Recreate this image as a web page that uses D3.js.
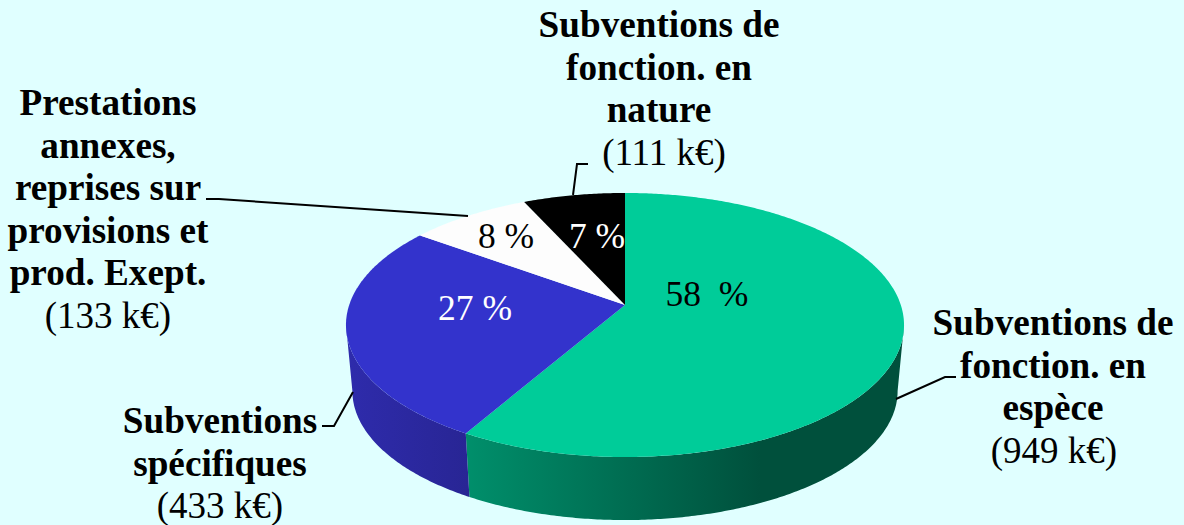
<!DOCTYPE html>
<html lang="fr">
<head>
<meta charset="UTF-8">
<script src="https://d3js.org/d3.v7.min.js"></script>
<title>Recettes</title>
<style>
    html, body { margin: 0; padding: 0; background: #e0ffff; }
    svg { display: block; }
    text { font-family: "Liberation Serif", serif; font-size: 37px; fill: black; text-anchor: middle; }
    text.name { font-weight: bold; font-size: 37.2px; }
    text.pct { font-size: 35.5px; white-space: pre; }
    .leader { fill: none; stroke: black; stroke-width: 2; }
</style>
</head>
<body>
<svg width="1184" height="525"></svg>
<script>
    const width = 1184, height = 525;

    const categories = ["Subventions de fonction. en espèce", "Subventions spécifiques",
        "Prestations annexes, reprises sur provisions et prod. Exept.", "Subventions de fonction. en nature"];
    const amounts = [949, 433, 133, 111];
    const percents = ["58  %", "27 %", "8 %", "7 %"];
    const amountLabels = ["(949 k€)", "(433 k€)", "(133 k€)", "(111 k€)"];
    const nameLines = [
        ["Subventions de", "fonction. en", "espèce"],
        ["Subventions", "spécifiques"],
        ["Prestations", "annexes,", "reprises sur", "provisions et", "prod. Exept."],
        ["Subventions de", "fonction. en", "nature"]
    ];
    const topColors = ["#00cc99", "#3333cc", "#fdfdfd", "#000000"];
    const percentColors = ["black", "white", "black", "white"];
    const percentPos = [[707, 306], [475, 320], [506, 248], [597, 248]];
    const namePos = [[1053, 335], [220, 433], [108, 115], [659, 37]];
    const amountShift = [1, 0, 0, 5];
    const leaders = [
        [[896, 399], [945, 377], [956, 377]],
        [[353, 392], [334, 426], [322, 426]],
        [[468, 216], [219, 199], [206, 199]],
        [[573, 195], [577, 164], [588, 164]]
    ];

    const svg = d3.select("svg");
    const defs = svg.append("defs");

    // green side goes dark to the right, blue side barely changes
    const sideGrad = [
        {id: "sideGreen", x1: 466, x2: 760, stops: ["#008f6b", "#00503c"]},
        {id: "sideBlue", x1: 350, x2: 470, stops: ["#2e2bab", "#282594"]}
    ];
    sideGrad.forEach(g => {
        const lg = defs.append("linearGradient").attr("id", g.id)
            .attr("gradientUnits", "userSpaceOnUse")
            .attr("x1", g.x1).attr("x2", g.x2).attr("y1", 0).attr("y2", 0);
        lg.append("stop").attr("offset", 0).attr("stop-color", g.stops[0]);
        lg.append("stop").attr("offset", 1).attr("stop-color", g.stops[1]);
    });

    // the disc is seen in perspective: apex is not the middle of the ellipse
    const cx = 625, cy = 305, rx = 275.8, ry = 129, persp = 0.1515;
    const depthScale = 0.977, depthY = 371.5;

    function project(angle, bottom) {
        const u = Math.sin(angle), v = -Math.cos(angle);
        const s = 1 / (1 - persp * v);
        const k = bottom ? depthScale : 1;
        return [cx + rx * u * s * k, (bottom ? depthY : cy) + ry * v * s * k];
    }

    const pie = d3.pie().sort(null)(amounts);
    const line = d3.line();

    function arcPoints(a0, a1, bottom) {
        const n = Math.ceil(Math.abs(a1 - a0) / 0.01);
        return d3.range(n + 1).map(i => project(a0 + (a1 - a0) * i / n, bottom));
    }

    // sides first, the top covers what should not show. Side ends where the ellipse is widest
    const edge = Math.acos(-persp);
    const sides = [
        {a0: edge, a1: pie[0].endAngle, fill: "url(#sideGreen)"},
        {a0: pie[1].startAngle, a1: 2 * Math.PI - edge, fill: "url(#sideBlue)"}
    ];
    svg.selectAll("path.side").data(sides).enter().append("path")
        .attr("class", "side")
        .attr("fill", d => d.fill)
        .attr("d", d => line(arcPoints(d.a0, d.a1, false).concat(arcPoints(d.a1, d.a0, true))) + "Z");

    svg.selectAll("path.top").data(pie).enter().append("path")
        .attr("class", "top")
        .attr("fill", (d, i) => topColors[i])
        .attr("d", d => line([[cx, cy]].concat(arcPoints(d.startAngle, d.endAngle, false))) + "Z");

    svg.selectAll("path.leader").data(leaders).enter().append("path")
        .attr("class", "leader")
        .attr("d", d => line(d));

    svg.selectAll("text.pct").data(percents).enter().append("text")
        .attr("class", "pct")
        .attr("x", (d, i) => percentPos[i][0]).attr("y", (d, i) => percentPos[i][1])
        .style("fill", (d, i) => percentColors[i])
        .text(d => d);

    const lineGap = 42.5;
    categories.forEach((c, i) => {
        const g = svg.append("g").attr("transform", `translate(${namePos[i]})`);
        g.selectAll("text.name").data(nameLines[i]).enter().append("text")
            .attr("class", "name")
            .attr("y", (d, j) => j * lineGap)
            .text(d => d);
        g.append("text")
            .attr("x", amountShift[i])
            .attr("y", nameLines[i].length * lineGap)
            .text(amountLabels[i]);
    });
</script>
</body>
</html>
